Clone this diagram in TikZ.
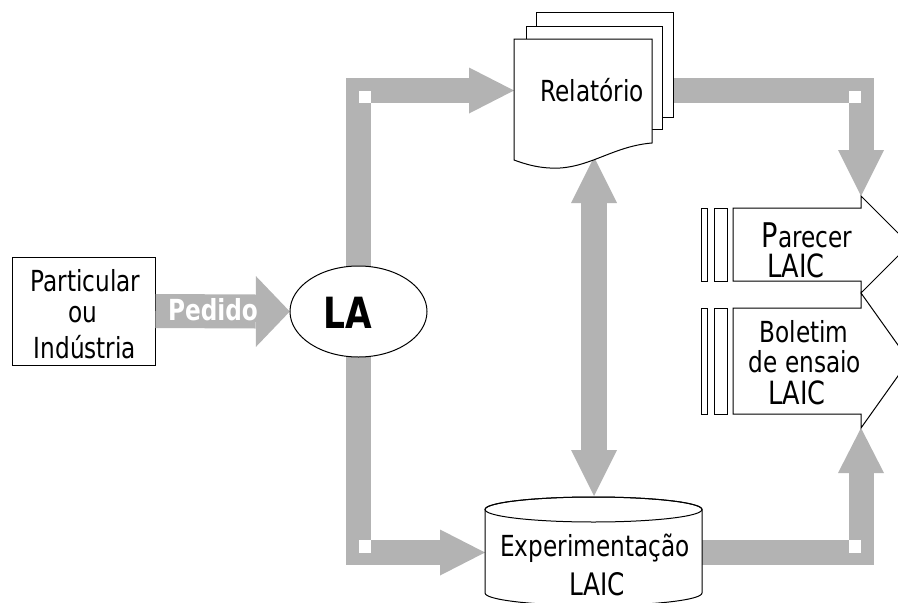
\documentclass[tikz,border=0pt]{standalone}
\usepackage{fontspec}
\setmainfont{DejaVu Sans}[FakeStretch=0.8]
\usetikzlibrary{shapes.geometric,calc}
\definecolor{graybar}{RGB}{179,179,179}
\tikzset{
  bar/.style={draw=graybar, line width=25pt},
  head/.style={fill=graybar, draw=none},
  outline/.style={draw=black, line width=1pt, fill=white},
  txt/.style={font=\fontsize{29}{33}\selectfont, inner sep=0pt, anchor=base},
  bigtxt/.style={font=\fontsize{32}{33}\selectfont, inner sep=0pt, anchor=base},
}
\begin{document}
\begin{tikzpicture}[x=1pt,y=-1pt]
\useasboundingbox (0,0) rectangle (898,603);
\clip (0,0) rectangle (898,603);

% main nodes / anchors
\node[draw, line width=1pt, minimum width=143pt, minimum height=108pt, inner sep=0pt] (partic) at (83.5,311) {};
\node[ellipse, minimum width=137pt, minimum height=91pt, inner sep=0pt] (LA) at (358.5,311.5) {};
\coordinate (relW) at (514,90.5);
\coordinate (relE) at (673,90.5);
\coordinate (relS) at (594,157);
\coordinate (cylN) at (594,496);
\coordinate (cylW) at (485,552.5);
\coordinate (cylE) at (702,552.5);
\coordinate (parN) at (861,196);
\coordinate (bolS) at (861,428);

% gray connectors
\draw[bar, line width=34pt] (partic.east) -- ($(LA.west)+(-34,0)$);
\fill[head] (LA.west) -- ++(-34,-35.5) -- ++(0,71) -- cycle;

\draw[bar] (LA.center) |- ($(relW)+(-45,0)$);
\fill[head] (relW) -- ++(-45,-23) -- ++(0,46) -- cycle;
\fill[white] (LA.center |- relW) rectangle ++(12.5,12.5);

\draw[bar] (LA.center) |- ($(cylW)+(-45,0)$);
\fill[head] (cylW) -- ++(-45,-23) -- ++(0,46) -- cycle;
\fill[white] (LA.center |- cylW) rectangle ++(12.5,-12.5);

\draw[bar] (relE) -| ($(parN)+(0,-46)$);
\fill[head] (parN) -- ++(-23,-46) -- ++(46,0) -- cycle;
\fill[white] (parN |- relE) rectangle ++(-12.5,12.5);

\draw[bar] (cylE) -| ($(bolS)+(0,45)$);
\fill[head] (bolS) -- ++(-23,45) -- ++(46,0) -- cycle;
\fill[white] (bolS |- cylE) rectangle ++(-12.5,-12.5);

\draw[bar, line width=26pt] ($(relS)+(0,46)$) -- ($(cylN)+(0,-46)$);
\fill[head] (relS) -- ++(-23,46) -- ++(46,0) -- cycle;
\fill[head] (cylN) -- ++(-23,-46) -- ++(46,0) -- cycle;

% Pedido label
\node[font=\bfseries\fontsize{29}{33}\selectfont, text=white, inner sep=0pt, anchor=base] (pedido) at (213,320) {Pedido};

% LA ellipse
\draw[outline] (LA.center) ellipse [x radius=68.5pt, y radius=45.5pt];
\node[font=\bfseries\fontsize{43}{45}\selectfont, inner sep=0pt, anchor=base] (latext) at (347.5,328) {LA};

% Particular text
\node[txt] (t1) at (85.5,291) {Particular};
\node[txt] (t2) at (83,322) {ou};
\node[txt] (t3) at (85,358) {Indústria};

% Relatorio document
\draw[outline] (536,12) rectangle (673,117);
\draw[outline] (526,26) rectangle (662,129);
\draw[outline] (514,39) -- (652,39) -- (652,143)
  .. controls (615,146) and (592,166) .. (560,168)
  .. controls (540,169) and (525,164) .. (514,160) -- cycle;
\node[txt] (rel) at (592,101.7) {Relatório};

% cylinder
\draw[outline] (485,509.5) -- (485,593)
  arc[start angle=180, end angle=360, x radius=108.5pt, y radius=12.5pt]
  -- (702,509.5)
  arc[start angle=0, end angle=180, x radius=108.5pt, y radius=12.5pt] -- cycle;
\draw[line width=1pt] (593.5,509.5) ellipse [x radius=108.5pt, y radius=12.5pt];
\node[txt] (exp) at (595,556) {Experimentação};
\node[font=\fontsize{31}{33}\selectfont, inner sep=0pt, anchor=base] (laic3) at (597,595) {LAIC};

% Parecer shape
\draw[outline] (701,208) rectangle (707,281);
\draw[outline] (714,208) rectangle (727,281);
\draw[outline] (733,208) -- (861,208) -- (parN) -- (909.5,244.5) -- (861,293) -- (861,281) -- (733,281) -- cycle;
\node[txt] (par) at (807,247) {{\fontsize{34}{33}\selectfont P}arecer};
\node[bigtxt] (laic1) at (796,277) {LAIC};

% Boletim shape
\draw[outline] (701,308) rectangle (707,414);
\draw[outline] (714,308) rectangle (727,414);
\draw[outline] (733,308) -- (861,308) -- (861,293) -- (909,360.5) -- (bolS) -- (861,414) -- (733,414) -- cycle;
\node[txt] (bol) at (804,342) {Boletim};
\node[txt] (ens) at (805,372) {de ensaio};
\node[bigtxt] (laic2) at (797,404) {LAIC};
\end{tikzpicture}
\end{document}
